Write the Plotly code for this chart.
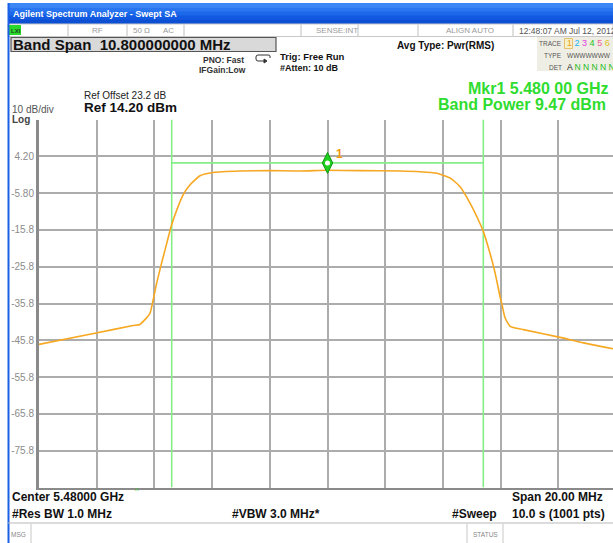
import plotly.graph_objects as go

W, H = 613, 543
FONT = "Arial, Liberation Sans, sans-serif"

# Analyzer settings
CENTER_MHZ = 5480.0
SPAN_MHZ = 20.0
BAND_SPAN_MHZ = 10.8
REF_DBM = 14.20
DB_PER_DIV = 10.0
BAND_BAR_DBM = 2.4

# Swept trace: offset from centre (MHz) and level (dBm)
offset_mhz = [-10.0, -8.02, -6.74, -6.50, -6.38, -6.26, -6.15, -6.04, -5.92, -5.75,
              -5.57, -5.42, -5.22, -5.00, -4.77, -4.42, -3.96, -3.03, -2.0, -0.95,
              0.0, 1.13, 2.51, 3.21, 3.79, 4.25, 4.59, 4.94, 5.23, 5.40,
              5.63, 5.81, 5.98, 6.05, 6.15, 6.33, 6.79, 8.06, 8.87, 9.90]
level_dbm = [-46.9, -43.8, -41.8, -41.5, -40.6, -39.6, -38.4, -34.7, -30.2, -24.8,
             -19.4, -14.9, -10.3, -6.2, -3.6, -1.1, -0.2, 0.2, 0.3, 0.2,
             0.4, 0.3, 0.2, 0.0, -0.4, -1.7, -4.0, -8.5, -13.1, -16.2,
             -22.1, -27.5, -33.9, -36.1, -39.6, -42.0, -42.9, -45.0, -46.5, -48.1]

y_tick_vals = [14.2, 4.2, -5.8, -15.8, -25.8, -35.8, -45.8, -55.8, -65.8, -75.8, -85.8]
y_tick_text = ["", "4.20", "-5.80", "-15.8", "-25.8", "-35.8", "-45.8", "-55.8", "-65.8", "-75.8", ""]
x_grid_vals = [CENTER_MHZ - SPAN_MHZ / 2 + 2 * i for i in range(11)]

freq_mhz = [CENTER_MHZ + o for o in offset_mhz]
band_lo = CENTER_MHZ - BAND_SPAN_MHZ / 2
band_hi = CENTER_MHZ + BAND_SPAN_MHZ / 2
y_top = REF_DBM
y_bot = REF_DBM - 10 * DB_PER_DIV

# grid geometry in screen pixels
PX_LEFT, PX_TOP, PX_BOT = 39, 119.5, 487.5
PX_PER_MHZ = 28.85
x_end = CENTER_MHZ - SPAN_MHZ / 2 + (W - PX_LEFT) / PX_PER_MHZ


def px(x):
    return x / W


def py(y):
    return 1 - y / H


GREEN_LINE = "#86ee86"
TRACE = "#f7a823"

fig = go.Figure()

# band edge lines and band power bar
fig.add_trace(go.Scatter(x=[band_lo, band_lo], y=[y_top, y_bot], mode="lines",
                         line=dict(color=GREEN_LINE, width=1.6), hoverinfo="skip"))
fig.add_trace(go.Scatter(x=[band_hi, band_hi], y=[y_top, y_bot], mode="lines",
                         line=dict(color=GREEN_LINE, width=1.6), hoverinfo="skip"))
fig.add_trace(go.Scatter(x=[band_lo, band_hi], y=[BAND_BAR_DBM, BAND_BAR_DBM], mode="lines",
                         line=dict(color=GREEN_LINE, width=1.6), hoverinfo="skip"))

# measured trace
fig.add_trace(go.Scatter(x=freq_mhz, y=level_dbm, mode="lines",
                         line=dict(color=TRACE, width=1.6, shape="spline", smoothing=0.5),
                         hoverinfo="skip"))

# marker 1
fig.add_trace(go.Scatter(x=[CENTER_MHZ], y=[BAND_BAR_DBM], mode="markers",
                         marker=dict(symbol="diamond-tall", size=15, color="#1fcf1f",
                                     line=dict(color="#119911", width=1)),
                         hoverinfo="skip"))
fig.add_trace(go.Scatter(x=[CENTER_MHZ], y=[BAND_BAR_DBM], mode="markers",
                         marker=dict(symbol="circle", size=5, color="white"),
                         hoverinfo="skip"))

fig.update_layout(
    width=W, height=H, margin=dict(l=0, r=0, t=0, b=0),
    paper_bgcolor="white", plot_bgcolor="white", showlegend=False,
    font=dict(family=FONT),
    xaxis=dict(domain=[px(PX_LEFT), 1], range=[CENTER_MHZ - SPAN_MHZ / 2, x_end],
               tickvals=x_grid_vals, showticklabels=False, ticks="",
               showgrid=True, gridcolor="#acacac", gridwidth=1.5, zeroline=False,
               showline=True, linecolor="#8a8a8a", linewidth=2),
    yaxis=dict(domain=[py(PX_BOT), py(PX_TOP)], range=[y_bot, y_top],
               tickvals=y_tick_vals, ticktext=y_tick_text, ticks="",
               tickfont=dict(size=10, color="#8c8c8c", family=FONT),
               showgrid=True, gridcolor="#acacac", gridwidth=1.5, zeroline=False,
               showline=True, linecolor="#8a8a8a", linewidth=3),
)

shapes = []


def rect(x0, y0, x1, y1, fill, line=None, lw=0):
    shapes.append(dict(type="rect", xref="paper", yref="paper",
                       x0=px(x0), x1=px(x1), y0=py(y1), y1=py(y0),
                       fillcolor=fill, line=dict(color=line or fill, width=lw),
                       layer="above"))


def seg(x0, y0, x1, y1, color, lw=1):
    shapes.append(dict(type="line", xref="paper", yref="paper",
                       x0=px(x0), x1=px(x1), y0=py(y0), y1=py(y1),
                       line=dict(color=color, width=lw), layer="above"))


# title bar
bands = ["#3d86f5", "#2a76f0", "#1c68ea", "#1159e0", "#0c4fd2"]
bh = (24 - 3) / len(bands)
for i, c in enumerate(bands):
    rect(8, 3 + i * bh, W, 3 + (i + 1) * bh + 0.5, c)

# status row
rect(8, 24, W, 36.5, "white", "#c8c8c8", 1)
for xs in [68, 127, 184, 301, 358, 418, 513]:
    seg(xs, 24.5, xs, 36, "#c0c0c0", 1)
rect(9, 25, 21, 35, "#29d829")

# band span entry box
rect(11, 37.5, 276, 51.5, "#d9d9d9", "#555555", 1.2)

# trace/detector panel
rect(537, 37, W, 71, "#efeee4")
rect(564.5, 38.5, 572.5, 48.5, "#f6f0c8", "#e4c070", 1)

# trigger symbol
shapes.append(dict(type="path", xref="paper", yref="paper",
                   path=f"M {px(270)} {py(58)} L {px(270)} {py(56)} Q {px(270)} {py(55)} {px(268)} {py(55)} "
                        f"L {px(258)} {py(55)} Q {px(256)} {py(55)} {px(256)} {py(57)} L {px(256)} {py(59)} "
                        f"Q {px(256)} {py(61)} {px(258)} {py(61)} L {px(265)} {py(61)}",
                   line=dict(color="#333333", width=1), layer="above"))
shapes.append(dict(type="path", xref="paper", yref="paper",
                   path=f"M {px(264)} {py(59)} L {px(267)} {py(61)} L {px(264)} {py(63)} Z",
                   fillcolor="#333333", line=dict(color="#333333", width=1), layer="above"))

# frame pieces
seg(8.5, 3, 8.5, H, "#1a5fe6", 2)
seg(8, 523, W, 523, "#b8b8b8", 1)
seg(31, 524, 31, H, "#c8c8c8", 1)
seg(467, 524, 467, H, "#c8c8c8", 1)
seg(503, 524, 503, H, "#c8c8c8", 1)

fig.update_layout(shapes=shapes)

ann = []


def text(x, y, s, size=10, color="#222222", bold=False, anchor="left", xref="paper", yref="paper"):
    if bold:
        s = f"<b>{s}</b>"
    ann.append(dict(x=px(x) if xref == "paper" else x, y=py(y) if yref == "paper" else y,
                    xref=xref, yref=yref, text=s, showarrow=False,
                    xanchor=anchor, yanchor="middle", borderpad=0,
                    font=dict(family=FONT, size=size, color=color)))


text(12, 14.5, "Agilent Spectrum Analyzer - Swept SA", 9, "white", True)
text(9.5, 30.5, "LXI", 6, "#224422", True)
text(97, 30.5, "RF", 8, "#9a9a9a", anchor="center")
text(141, 30.5, "50 Ω", 8, "#9a9a9a", anchor="center")
text(168, 30.5, "AC", 8, "#9a9a9a", anchor="center")
text(337, 30.5, "SENSE:INT", 8, "#9a9a9a", anchor="center")
text(470, 30.5, "ALIGN AUTO", 8, "#9a9a9a", anchor="center")
text(518, 30.5, "12:48:07 AM Jul 12, 2012", 8.5, "#555555")

text(12, 44.5, "Band Span  10.800000000 MHz", 15, "#111111", True)
text(202, 59.5, "PNO: Fast", 8.5, "#333333", True)
text(198, 70, "IFGain:Low", 8.5, "#333333", True)
text(279, 57, "Trig: Free Run", 9.5, "#111111", True)
text(279, 68.5, "#Atten: 10 dB", 9, "#111111", True)
text(396, 45.5, "Avg Type: Pwr(RMS)", 10, "#111111", True)

text(563, 43.5, "TRACE", 6.5, "#555555", anchor="right")
text(566, 43.5,
     '<span style="color:#f0a020">1</span> <span style="color:#1ab6f0">2</span> '
     '<span style="color:#e040e0">3</span> <span style="color:#20c020">4</span> '
     '<span style="color:#f05a9a">5</span> <span style="color:#e0c020">6</span>', 9)
text(563, 56, "TYPE", 6.5, "#555555", anchor="right")
text(566, 56, "WWWWWWW", 6.5, "#555555")
text(563, 67, "DET", 6.5, "#555555", anchor="right")
text(566, 67, 'A <span style="color:#22bb22">N N N N N</span>', 8.5)

text(83, 95, "Ref Offset 23.2 dB", 10, "#222222")
text(83, 107.5, "Ref 14.20 dBm", 13.5, "#111111", True)
text(11, 109.5, "10 dB/div", 10, "#555555")
text(11, 119, "Log", 10, "#444444", True)

text(467, 88.5, "Mkr1 5.480 00 GHz", 16, "#2fdc2f", True)
text(437, 104.5, "Band Power 9.47 dBm", 16, "#2fdc2f", True)

# marker number beside the diamond
text(CENTER_MHZ + 0.25, BAND_BAR_DBM + 2.4, "1", 12, "#f39a10", True, xref="x", yref="y")

text(134, 490, "^", 8, "#2fcf2f")
text(11, 497, "Center 5.48000 GHz", 12, "#111111", True)
text(11, 514, "#Res BW 1.0 MHz", 12, "#111111", True)
text(231, 514, "#VBW 3.0 MHz*", 12, "#111111", True)
text(511, 497, "Span 20.00 MHz", 12, "#111111", True)
text(451, 514, "#Sweep", 12, "#111111", True)
text(511, 514, "10.0 s (1001 pts)", 12, "#111111", True)

text(10, 534, "MSG", 6.5, "#888888")
text(485, 534, "STATUS", 6.5, "#888888", anchor="center")

fig.update_layout(annotations=ann)

fig.write_html("out.html")
